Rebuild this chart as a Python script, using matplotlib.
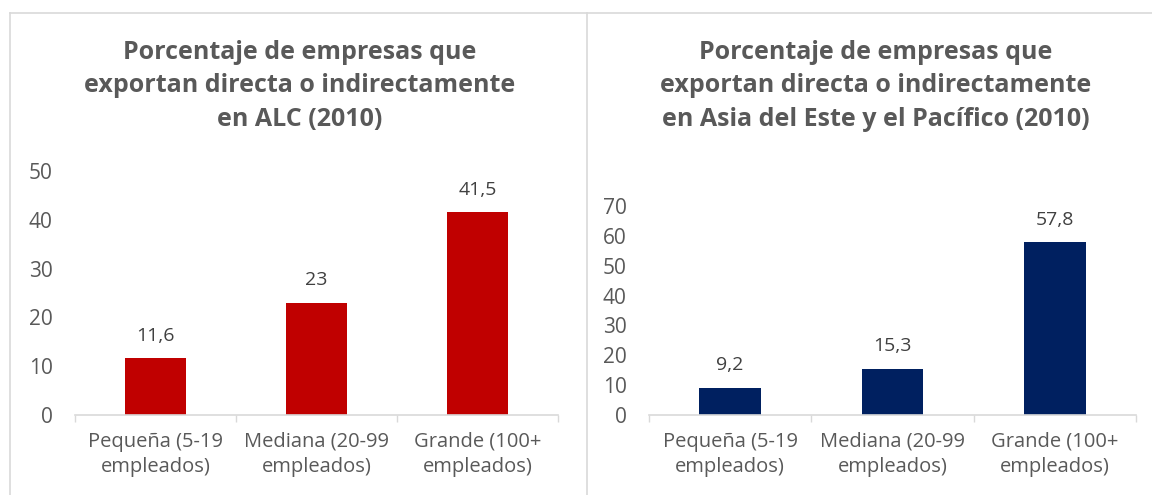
import matplotlib
matplotlib.use("Agg")
import matplotlib.pyplot as plt
from matplotlib.lines import Line2D

plt.rcParams['font.family'] = ['Open Sans', 'DejaVu Sans']

categorias = ['Pequeña (5-19\nempleados)', 'Mediana (20-99\nempleados)', 'Grande (100+\nempleados)']
valores_alc = [11.6, 23, 41.5]
valores_asia = [9.2, 15.3, 57.8]
etiquetas_alc = ['11,6', '23', '41,5']
etiquetas_asia = ['9,2', '15,3', '57,8']

titulo_alc = 'Porcentaje de empresas que\nexportan directa o indirectamente\nen ALC (2010)'
titulo_asia = 'Porcentaje de empresas que\nexportan directa o indirectamente\nen Asia del Este y el Pacífico (2010)'

W, H = 1152, 495
fig = plt.figure(figsize=(W / 100, H / 100), dpi=100)

gris_borde = '#D9D9D9'
gris_texto = '#595959'


def panel(rect, valores, etiquetas, color, ymax, titulo, xtitulo):
    ax = fig.add_axes(rect)
    x = range(len(categorias))
    ax.bar(x, valores, width=0.38, color=color)
    for xi, v, t in zip(x, valores, etiquetas):
        ax.annotate(t, (xi, v), xytext=(0, 10), textcoords='offset points',
                    ha='center', va='bottom', fontsize=14, color='#404040')
    ax.set_xlim(-0.5, 2.5)
    ax.set_ylim(0, ymax)
    ax.set_yticks(range(0, ymax + 1, 10))
    ax.set_xticks(list(x))
    ax.set_xticklabels(categorias, fontsize=14.5, color=gris_texto, linespacing=1.35)
    ax.set_xticks([-0.5, 0.5, 1.5, 2.5], minor=True)
    ax.tick_params(axis='x', which='major', length=0, pad=12)
    ax.tick_params(axis='x', which='minor', length=5, color=gris_borde, width=1)
    ax.tick_params(axis='y', length=0, labelsize=15, labelcolor=gris_texto, pad=16)
    for s in ['top', 'right', 'left']:
        ax.spines[s].set_visible(False)
    ax.spines['bottom'].set_color(gris_borde)
    ax.spines['bottom'].set_linewidth(1.2)
    fig.text(xtitulo, 1 - 86 / H, titulo, ha='center', va='center', fontsize=18,
             fontweight='bold', color=gris_texto, linespacing=1.45)
    return ax


base = 1 - 415 / H
panel([75 / W, base, 483 / W, 244 / H], valores_alc, etiquetas_alc, '#C00000', 50,
      titulo_alc, 300 / W)
panel([649 / W, base, 487 / W, 209 / H], valores_asia, etiquetas_asia, '#002060', 70,
      titulo_asia, 876 / W)

# marco
y_top = 1 - 13 / H
fig.add_artist(Line2D([10 / W, 1], [y_top, y_top], color=gris_borde, lw=1.2))
fig.add_artist(Line2D([10 / W, 10 / W], [0, y_top], color=gris_borde, lw=1.2))
fig.add_artist(Line2D([587 / W, 587 / W], [0, y_top], color=gris_borde, lw=1.2))

fig.savefig('out.png', dpi=100)
